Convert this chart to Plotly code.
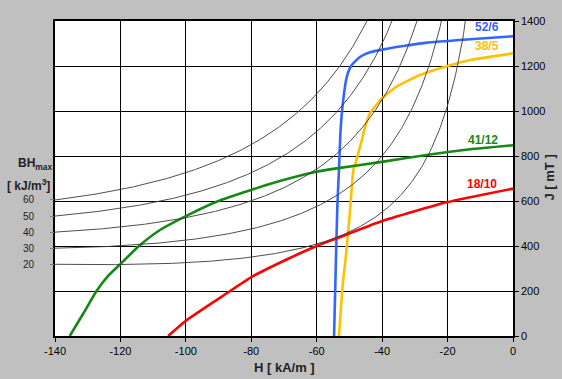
import plotly.graph_objects as go
import numpy as np

# ---- data ----
h_52_6 = [-54.7, -54.2, -53.7, -53.2, -52.7, -51.9, -50.8, -49.3, -46.8, -43.7, -39.6, -33.0, -26.4, -13.1, 0.0]
j_52_6 = [0, 293, 575, 738, 916, 1049, 1152, 1204, 1240, 1261, 1274, 1290, 1304, 1319, 1332]

h_38_5 = [-53.2, -52.1, -51.0, -49.8, -48.8, -48.3, -47.3, -46.2, -45.2, -43.7, -40.1, -35.6, -28.4, -20.0, -13.1, 0.0]
j_38_5 = [0, 219, 367, 560, 738, 760, 812, 871, 930, 990, 1056, 1108, 1160, 1200, 1227, 1256]

h_41_12 = [-135.5, -131.3, -127.3, -123.7, -119.8, -114.0, -107.9, -100.0, -90.6, -80.1, -70.2, -60.0, -53.9, -39.6, -25.4, -13.1, 0.0]
j_41_12 = [0, 101, 200, 268, 323, 404, 471, 533, 597, 649, 693, 730, 745, 775, 807, 830, 848]

h_18_10 = [-105.4, -99.7, -87.5, -80.1, -69.2, -60.0, -53.9, -40.6, -20.3, 0.0]
j_18_10 = [0, 71, 190, 261, 340, 400, 434, 508, 594, 655]

grades = ["52/6", "38/5", "41/12", "18/10"]
colors = ["#3366FF", "#FFC000", "#138A13", "#FF0000"]

# energy-product (BHmax) reference levels, kJ/m^3
bh_levels = [20, 30, 40, 50, 60]
bh_labels = ["20", "30", "40", "50", "60"]

x_ticks = [-140, -120, -100, -80, -60, -40, -20, 0]
y_ticks = [0, 200, 400, 600, 800, 1000, 1200, 1400]

MU0 = 0.4 * np.pi  # mT per kA/m


def iso_bh(bh, h):
    # constant energy product: B*H = bh, J = B - mu0*H
    h = np.asarray(h, dtype=float)
    return -1000.0 * bh / h - MU0 * h


fig = go.Figure()

h_grid = np.linspace(-140, -5, 400)
for bh in bh_levels:
    fig.add_trace(go.Scatter(x=h_grid, y=iso_bh(bh, h_grid), mode="lines",
                             line=dict(color="#3a3a3a", width=0.9),
                             yaxis="y2", showlegend=False, hoverinfo="skip"))

series = [(h_52_6, j_52_6), (h_38_5, j_38_5), (h_41_12, j_41_12), (h_18_10, j_18_10)]
for (hx, jy), name, c in zip(series, grades, colors):
    fig.add_trace(go.Scatter(x=hx, y=jy, mode="lines", name=name,
                             line=dict(color=c, width=2.6, shape="spline", smoothing=0.5),
                             showlegend=False))

label_pos = {"52/6": (-7.9, 1372), "38/5": (-7.9, 1288), "41/12": (-9.2, 872), "18/10": (-9.5, 676)}
for name, c in zip(grades, colors):
    lx, ly = label_pos[name]
    fig.add_annotation(x=lx, y=ly, text="<b>%s</b>" % name, showarrow=False,
                       font=dict(family="Liberation Sans, Arial", size=12, color=c))

bh_tick_vals = [float(iso_bh(bh, -140)) for bh in bh_levels]

fig.update_layout(
    width=562, height=379, autosize=False,
    margin=dict(l=55, r=49, t=21, b=43),
    paper_bgcolor="#C0C0C0", plot_bgcolor="#FFFFFF",
    font=dict(family="Liberation Sans, Arial", size=11, color="#000000"),
    xaxis=dict(range=[-140, 0], tickvals=x_ticks, ticktext=[str(v) for v in x_ticks],
               showgrid=True, gridcolor="#000000", gridwidth=1, zeroline=False,
               showline=True, linecolor="#000000", linewidth=1.5, mirror=True,
               ticks="outside", ticklen=4, tickcolor="#000000",
               tickfont=dict(size=11)),
    yaxis=dict(range=[0, 1400], side="right", tickvals=y_ticks,
               showgrid=True, gridcolor="#000000", gridwidth=1, zeroline=False,
               showline=True, linecolor="#000000", linewidth=1.5, mirror=True,
               ticks="outside", ticklen=4, tickcolor="#000000",
               tickfont=dict(size=11)),
    yaxis2=dict(range=[0, 1400], overlaying="y", side="left", anchor="x",
                tickvals=bh_tick_vals, ticktext=bh_labels, showgrid=False,
                zeroline=False, showline=False, ticks="outside", ticklen=4,
                tickcolor="#808080", ticklabelstandoff=14,
                tickfont=dict(size=10, color="#202020")),
)

fig.add_annotation(xref="paper", yref="paper", x=0.5, y=0, yshift=-31,
                   text="<b>H [ kA/m ]</b>", showarrow=False,
                   font=dict(size=13, color="#222222"), xanchor="center", yanchor="middle")
fig.add_annotation(xref="paper", yref="paper", x=1, y=0.5, xshift=36, yshift=1,
                   text="<b>J [ mT ]</b>", showarrow=False, textangle=-90,
                   font=dict(size=13, color="#222222"), xanchor="center", yanchor="middle")
fig.add_annotation(xref="paper", yref="paper", x=0, xshift=-20, y=1, yshift=-(164 - 21),
                   text="<b>BH<sub>max</sub></b>", showarrow=False,
                   font=dict(size=12, color="#222222"), xanchor="center", yanchor="middle")
fig.add_annotation(xref="paper", yref="paper", x=0, xshift=-27, y=1, yshift=-(185 - 21),
                   text="<b>[ kJ/m<sup>3</sup>]</b>", showarrow=False,
                   font=dict(size=12, color="#222222"), xanchor="center", yanchor="middle")

fig.write_html("out.html", config={"displayModeBar": False},
               post_script="document.body.style.margin='0';document.body.style.overflow='hidden';")
